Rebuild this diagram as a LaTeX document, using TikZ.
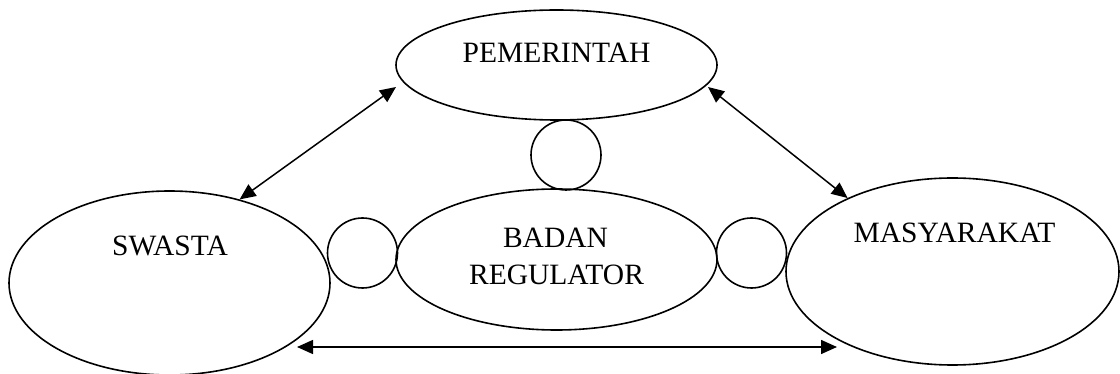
\documentclass[tikz,border=0pt]{standalone}
\usepackage{fontspec}
\setmainfont{Liberation Serif}
\usetikzlibrary{shapes.geometric,arrows.meta}
\begin{document}
\begin{tikzpicture}[x=1pt,y=-1pt,
  oval/.style={draw,ellipse,line width=1.6pt,inner sep=0pt},
  ring/.style={draw,circle,line width=1.6pt,inner sep=0pt,minimum size=70pt},
  lbl/.style={anchor=base,font=\fontsize{29.5}{37}\selectfont,inner sep=0pt},
  link/.style={line width=1.5pt,{Triangle[length=16pt,width=14pt]}-{Triangle[length=16pt,width=14pt]}}]
\useasboundingbox (0,0) rectangle (1120,374);
% ellipses
\node[oval,minimum width=321pt,minimum height=110pt] (pem) at (556.5,65) {};
\node[oval,minimum width=321pt,minimum height=184pt] (swa) at (169.5,283) {};
\node[oval,minimum width=321pt,minimum height=141pt] (bad) at (556.5,259.5) {};
\node[oval,minimum width=333pt,minimum height=187pt] (mas) at (952.5,271.5) {};
% small circles
\node[ring] (ctop) at (566,155) {};
\node[ring] (cleft) at (362.5,253) {};
\node[ring] (cright) at (751.5,253) {};
% labels
\node[lbl] (tpem) at (556.5,63) {PEMERINTAH};
\node[lbl] (tswa) at (170,256) {SWASTA};
\node[lbl] (tbad1) at (555.5,248) {BADAN};
\node[lbl] (tbad2) at (556.5,285) {REGULATOR};
\node[lbl] (tmas) at (954.5,243) {MASYARAKAT};
% connectors
\coordinate (pl) at (396,87);
\coordinate (pr) at (708,87);
\coordinate (bl) at (297,347);
\coordinate (br) at (837,347);
\draw[link] (pl) -- (swa.50.4);
\draw[link] (pr) -- (mas.145.5);
\draw[link] (bl) -- (br);
\end{tikzpicture}
\end{document}
